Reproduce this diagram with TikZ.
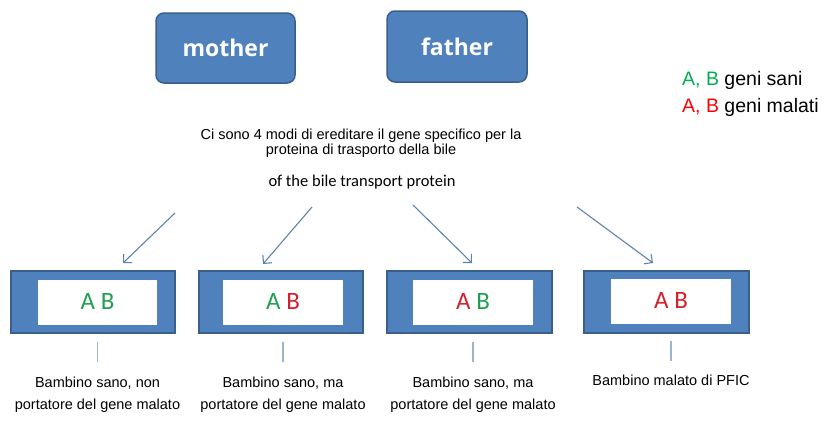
\documentclass[tikz,border=0pt]{standalone}
\usepackage{fontspec}
\setmainfont{Liberation Sans}
\newfontfamily\calib{Carlito}
\newfontfamily\opensans{Open Sans}
\usetikzlibrary{arrows.meta}
\definecolor{boxblue}{HTML}{4F81BD}
\definecolor{boxedge}{HTML}{3A5F8B}
\definecolor{arrowcol}{HTML}{5E82AE}
\definecolor{tickcol}{HTML}{9DB5CC}
\definecolor{gsano}{HTML}{00B050}
\definecolor{gmal}{HTML}{FF0000}
\definecolor{boxgreen}{HTML}{1FA050}
\definecolor{boxred}{HTML}{D4202A}
\begin{document}
\begin{tikzpicture}[x=1pt,y=-1pt,
 parent/.style={draw=boxedge, line width=1.5pt, fill=boxblue, rounded corners=8pt,
   minimum width=139pt, minimum height=70pt, inner sep=0pt, text=white,
   font=\opensans\bfseries\fontsize{23}{23}\selectfont},
 child/.style={draw=boxedge, line width=1.5pt, fill=boxblue, minimum width=164pt,
   minimum height=62pt, inner sep=0pt},
 gene/.style={fill=white, minimum width=119pt, minimum height=45pt, inner sep=0pt,
   font=\calib\fontsize{25}{25}\selectfont},
 inh/.style={draw=arrowcol, line width=1.1pt, -{Straight Barb[length=6pt,width=12pt]}},
 tickline/.style={draw=tickcol, line width=1.6pt},
 caption/.style={align=center, anchor=north, inner sep=0pt, font=\fontsize{14.5}{22}\selectfont},
 legend/.style={anchor=base west, inner sep=0pt, font=\fontsize{19.5}{19.5}\selectfont},
]
\path[use as bounding box] (0,0) rectangle (826,421);

\node[parent] (mother) at (225.5,48) {mother};
\node[parent, minimum width=140pt, minimum height=71pt] (father) at (457,46.5) {father};

\node[legend] (leg1) at (682,85) {\textcolor{gsano}{A, B} geni sani};
\node[legend] (leg2) at (682,112.7) {\textcolor{gmal}{A, B} geni malati};

\node[align=center, anchor=north, inner sep=0pt, font=\fontsize{14.5}{15.5}\selectfont] (intro) at (361,128.5)
  {Ci sono 4 modi di ereditare il gene specifico per la\\proteina di trasporto della bile};
\node[anchor=base, inner sep=0pt, font=\calib\fontsize{16.5}{16.5}\selectfont] (sub) at (362,186)
  {of the bile transport protein};

\node[child] (c1) at (93,302) {};
\node[child] (c2) at (281,302) {};
\node[child, minimum width=165pt] (c3) at (469.5,302) {};
\node[child, minimum width=165pt] (c4) at (666.5,302) {};

\node[gene] (g1) at (97.5,302.5) {\raisebox{2pt}{\textcolor{boxgreen}{A} \textcolor{boxgreen}{B}}};
\node[gene, minimum width=120pt] (g2) at (283,302.5) {\raisebox{2pt}{\textcolor{boxgreen}{A} \textcolor{boxred}{B}}};
\node[gene, minimum width=120pt] (g3) at (473,302.5) {\raisebox{2pt}{\textcolor{boxred}{A} \textcolor{boxgreen}{B}}};
\node[gene, minimum width=120pt] (g4) at (671,301.5) {\raisebox{2pt}{\textcolor{boxred}{A} \textcolor{boxred}{B}}};

\coordinate (s1) at (175,213); \coordinate (e1) at (123,263);
\coordinate (s2) at (312,207); \coordinate (e2) at (263,264);
\coordinate (s3) at (413,205); \coordinate (e3) at (472,263);
\coordinate (s4) at (577,207); \coordinate (e4) at (653,263);
\draw[inh] (s1) -- (e1);
\draw[inh] (s2) -- (e2);
\draw[inh] (s3) -- (e3);
\draw[inh] (s4) -- (e4);

\foreach \g in {g1,g2,g3,g4}{
  \draw[tickline] ([yshift=-17pt]\g.south) -- ++(0,20);
}

\node[caption] (l1) at ([yshift=-51.5pt]g1.south) {Bambino sano, non\\portatore del gene malato};
\node[caption] (l2) at ([yshift=-51.5pt]g2.south) {Bambino sano, ma\\portatore del gene malato};
\node[caption] (l3) at ([yshift=-51.5pt]g3.south) {Bambino sano, ma\\portatore del gene malato};
\node[caption] (l4) at ([yshift=-50.5pt]g4.south) {Bambino malato di PFIC};
\end{tikzpicture}
\end{document}
